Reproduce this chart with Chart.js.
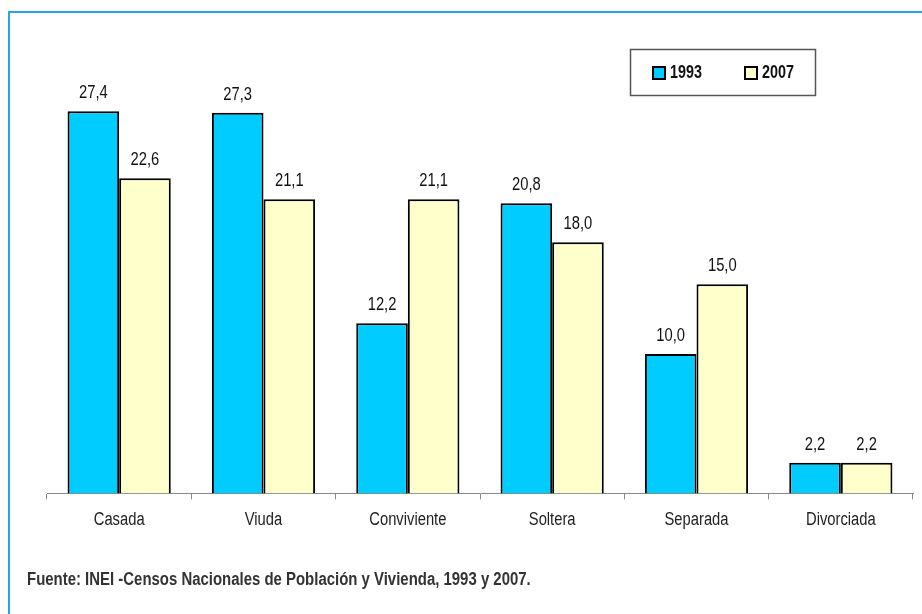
<!DOCTYPE html>
<html>
<head>
<meta charset="utf-8">
<script src="https://cdn.jsdelivr.net/npm/chart.js@4/dist/chart.umd.min.js"></script>
<style>
  html, body { margin: 0; padding: 0; background: #fff; }
  #wrap { position: relative; width: 922px; height: 614px; overflow: hidden; }
  #frame { position: absolute; left: 8px; top: 11px; width: 930px; height: 620px;
           border-left: 2px solid #2aa3e6; border-top: 2px solid #2aa3e6; box-sizing: border-box; }
  #chart { position: absolute; left: 0; top: 0; }
  #source { position: absolute; left: 27px; top: 569px; font-family: "Liberation Sans", Arial, sans-serif;
            font-weight: bold; font-size: 18px; color: #333; white-space: nowrap;
            transform: scaleX(0.83); transform-origin: left top; }
</style>
</head>
<body>
<div id="wrap">
  <div id="frame"></div>
  <canvas id="chart" width="922" height="614"></canvas>
  <div id="source">Fuente: INEI -Censos Nacionales de Población y Vivienda, 1993 y 2007.</div>
</div>
<script>
const categories = ["Casada", "Viuda", "Conviviente", "Soltera", "Separada", "Divorciada"];
const seriesNames = ["1993", "2007"];
const values1993 = [27.4, 27.3, 12.2, 20.8, 10.0, 2.2];
const values2007 = [22.6, 21.1, 21.1, 18.0, 15.0, 2.2];

const FONT = '"Liberation Sans", Arial, sans-serif';
const NARROW = 0.82;
const fmt = v => v.toFixed(1).replace('.', ',');

function narrowText(ctx, text, x, y) {
  ctx.save();
  ctx.translate(x, y);
  ctx.scale(NARROW, 1);
  ctx.fillText(text, 0, 0);
  ctx.restore();
}

const valueLabels = {
  id: 'valueLabels',
  afterDatasetsDraw(chart) {
    const ctx = chart.ctx;
    ctx.save();
    ctx.font = '18px ' + FONT;
    ctx.fillStyle = '#111';
    ctx.textAlign = 'center';
    ctx.textBaseline = 'alphabetic';
    chart.data.datasets.forEach((ds, i) => {
      chart.getDatasetMeta(i).data.forEach((bar, j) => {
        narrowText(ctx, fmt(ds.data[j]), bar.x, bar.y - 13);
      });
    });
    // category labels
    const xs = chart.scales.x;
    ctx.fillStyle = '#222';
    ctx.textBaseline = 'middle';
    chart.data.labels.forEach((lab, j) => {
      narrowText(ctx, lab, xs.getPixelForValue(j), chart.chartArea.bottom + 27);
    });
    ctx.restore();
  }
};

const boxLegend = {
  id: 'boxLegend',
  afterDraw(chart) {
    const ctx = chart.ctx;
    ctx.save();
    ctx.strokeStyle = '#555';
    ctx.lineWidth = 1.5;
    ctx.strokeRect(630.5, 49.5, 185, 46);
    const xs = [[653, 670], [745, 762]];
    ctx.font = 'bold 17.5px ' + FONT;
    ctx.textBaseline = 'middle';
    ctx.textAlign = 'left';
    chart.data.datasets.forEach((ds, i) => {
      ctx.fillStyle = ds.backgroundColor;
      ctx.fillRect(xs[i][0], 67, 12, 12);
      ctx.strokeStyle = '#000';
      ctx.lineWidth = 2;
      ctx.strokeRect(xs[i][0], 67, 12, 12);
      ctx.fillStyle = '#111';
      narrowText(ctx, ds.label, xs[i][1], 73.5);
    });
    ctx.restore();
  }
};

new Chart(document.getElementById('chart'), {
  type: 'bar',
  data: {
    labels: categories,
    datasets: [
      { label: seriesNames[0], data: values1993, backgroundColor: '#00ccff', borderColor: '#000', borderWidth: 2 },
      { label: seriesNames[1], data: values2007, backgroundColor: '#ffffcc', borderColor: '#000', borderWidth: 2 }
    ]
  },
  options: {
    responsive: false,
    animation: false,
    layout: { padding: { left: 47, right: 9, top: 75, bottom: 71 } },
    categoryPercentage: 0.715,
    barPercentage: 1.0,
    plugins: { legend: { display: false }, tooltip: { enabled: false } },
    scales: {
      x: {
        grid: { drawOnChartArea: false, drawTicks: true, tickLength: 6, color: '#888', offset: true },
        border: { display: true, color: '#888', width: 1 },
        ticks: { color: 'rgba(0,0,0,0)', font: { family: FONT, size: 18 }, padding: 11 }
      },
      y: { display: false, min: 0, max: 30 }
    }
  },
  plugins: [valueLabels, boxLegend]
});
</script>
</body>
</html>
